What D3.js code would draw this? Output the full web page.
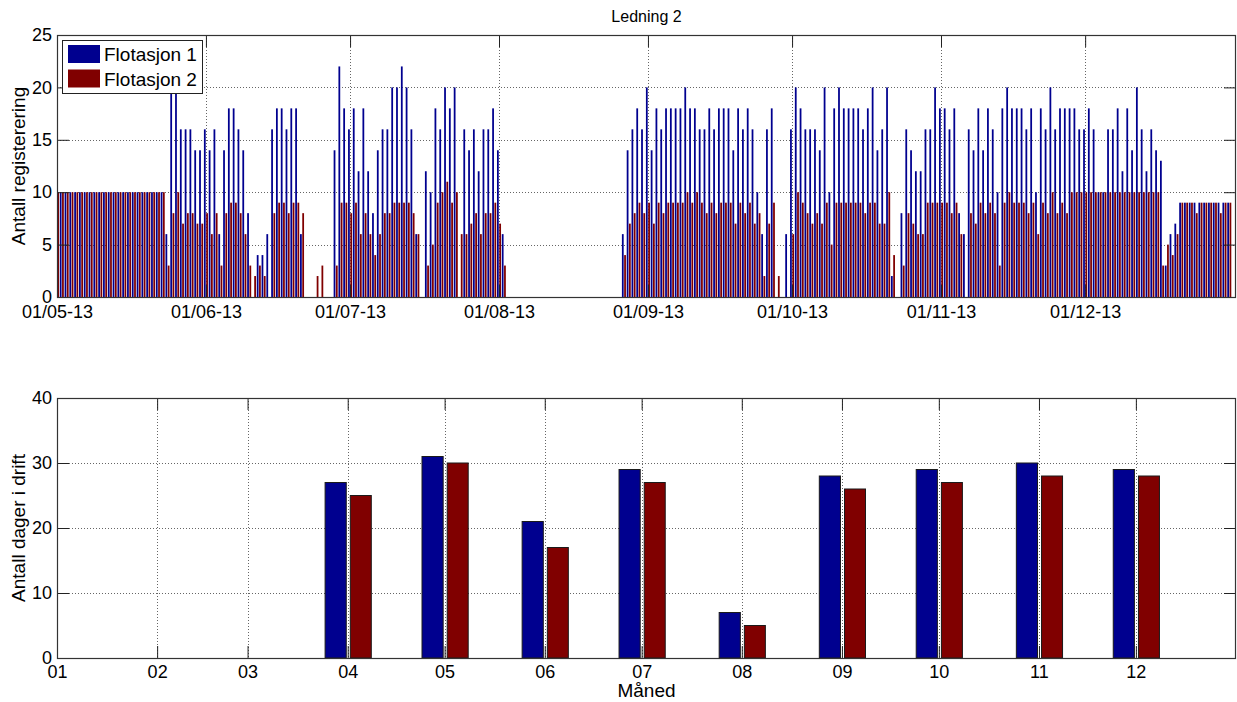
<!DOCTYPE html>
<html>
<head>
<meta charset="utf-8">
<script src="https://cdn.jsdelivr.net/npm/d3@7"></script>
<style>
  body { margin: 0; background: #fff; }
  svg { display: block; font-family: "Liberation Sans", Arial, Helvetica, sans-serif; }
</style>
</head>
<body>
<svg id="chart" width="1237" height="702"></svg>
<script>
// ---- daily registrations, one value per day from the start date ----
const startDate = "2013-05-01";
const flot1Daily = [
  10,10,10,10,10,10,10,10,10,10,
  10,10,10,10,10,10,10,10,10,10,
  10,10,10,6,20,20,16,16,16,14,
  14,16,14,16,6,14,18,18,16,14,
  8,0,4,4,6,16,18,18,16,18,
  18,6,0,0,0,0,0,0,14,22,
  18,16,18,12,18,12,8,14,16,16,
  20,20,22,20,16,6,0,12,10,18,
  16,20,18,20,0,16,14,16,12,16,
  16,18,14,6,0,0,0,0,0,0,
  0,0,0,0,0,0,0,0,0,0,
  0,0,0,0,0,0,0,0,6,14,
  16,18,16,20,14,18,16,18,18,18,
  18,20,18,18,16,16,18,16,18,18,
  18,14,18,16,18,16,10,6,16,18,
  0,0,6,16,20,18,16,16,16,14,
  20,10,18,20,18,18,18,18,16,18,
  20,14,16,20,2,0,8,16,14,12,
  12,16,16,20,18,18,16,18,8,6,
  16,14,18,14,18,16,10,18,20,18,
  18,18,16,18,10,18,16,20,16,18,
  18,18,18,16,16,18,16,10,10,16,
  16,18,12,18,14,20,16,12,16,14,
  13,3,6,7,9,9,9,9,9,9,
  9,9,9,9,9
];
const flot2Daily = [
  10,10,10,10,10,10,10,10,10,10,
  10,10,10,10,10,10,10,10,10,10,
  10,10,10,3,8,10,7,8,8,7,
  7,8,6,8,3,8,9,9,8,6,
  3,2,3,2,0,8,9,9,8,9,
  9,8,0,0,2,3,0,0,3,9,
  9,8,9,6,8,6,4,6,8,8,
  9,9,9,9,8,6,0,3,5,9,
  10,11,9,10,6,6,7,8,6,8,
  8,9,7,3,0,0,0,0,0,0,
  0,0,0,0,0,0,0,0,0,0,
  0,0,0,0,0,0,0,0,4,7,
  8,9,8,9,7,9,8,9,9,9,
  9,10,9,10,9,8,9,8,9,9,
  9,7,9,8,9,7,8,2,7,9,
  2,0,0,6,10,9,8,7,8,7,
  9,5,9,9,9,9,9,9,8,9,
  9,7,7,10,4,0,3,8,7,6,
  6,9,9,9,9,9,8,9,6,0,
  8,7,9,8,9,8,3,9,10,9,
  9,9,8,9,6,9,8,10,8,9,
  8,10,10,10,10,10,10,10,10,10,
  10,10,10,10,10,10,10,10,10,10,
  3,5,4,6,9,9,9,8,9,9,
  9,9,8,9,9
];

// ---- days in operation per month ----
const monthNumbers = [4, 5, 6, 7, 8, 9, 10, 11, 12];
const flot1Days = [27, 31, 21, 29, 7, 28, 29, 30, 29];
const flot2Days = [25, 30, 17, 27, 5, 26, 27, 28, 28];

const seriesNames = ["Flotasjon 1", "Flotasjon 2"];
const seriesColors = ["#00008f", "#800000"];
const topYTicks = [0, 5, 10, 15, 20, 25];
const bottomYTicks = [0, 10, 20, 30, 40];
const titleText = "Ledning 2";
const topYLabel = "Antall registerering";
const bottomYLabel = "Antall dager i drift";
const bottomXLabel = "Måned";

// ---- layout ----
const svg = d3.select("#chart");
const plotLeft = 57, plotRight = 1236;
const top1 = 35, bottom1 = 297;
const top2 = 398, bottom2 = 658;
const tickLen = 12;
const tickFont = 18, labelFont = 19;
const DAY = 864e5;

const t0 = d3.utcParse("%Y-%m-%d")(startDate);
const shift = (d, days) => new Date(d.getTime() + days * DAY);
const tEnd = shift(t0, 245.4);

// top panel scales
const xTop = d3.scaleUtc().domain([t0, tEnd]).range([plotLeft, plotRight]);
const yTop = d3.scaleLinear().domain([0, 25]).range([bottom1, top1]);

// bottom panel scales
const year0 = new Date(Date.UTC(2013, 0, 1));
const year1 = new Date(Date.UTC(2014, 0, 1));
const xBot = d3.scaleUtc().domain([year0, year1]).range([plotLeft, plotRight]);
const yBot = d3.scaleLinear().domain([0, 40]).range([bottom2, top2]);

function drawGrid(g, x, y, xTicks, yTicks, yTop_, yBottom_) {
  const grid = g.append("g").attr("class", "grid")
    .attr("stroke", "#666").attr("stroke-width", 1).attr("stroke-dasharray", "1,2");
  grid.selectAll("line.v").data(xTicks.filter(t => x(t) > plotLeft + 1 && x(t) < plotRight - 1))
    .join("line").attr("class", "v")
    .attr("x1", d => Math.round(x(d)) + 0.5).attr("x2", d => Math.round(x(d)) + 0.5)
    .attr("y1", yTop_).attr("y2", yBottom_);
  grid.selectAll("line.h").data(yTicks.filter(v => y(v) > yTop_ + 1 && y(v) < yBottom_ - 1))
    .join("line").attr("class", "h")
    .attr("x1", plotLeft).attr("x2", plotRight)
    .attr("y1", d => Math.round(y(d)) + 0.5).attr("y2", d => Math.round(y(d)) + 0.5);
}

function drawAxes(g, x, y, xTicks, yTicks, xFmt, yTop_, yBottom_, xPad) {
  const styleAxis = sel => {
    sel.select(".domain").remove();
    sel.attr("font-size", tickFont).attr("font-family", null).attr("color", "#000");
    sel.selectAll(".tick line").attr("stroke", "#222");
  };
  g.append("g").attr("transform", `translate(0,${yBottom_})`)
    .call(d3.axisBottom(x).tickValues(xTicks).tickFormat(xFmt)
      .tickSize(-tickLen).tickSizeOuter(0).tickPadding(xPad))
    .call(styleAxis);
  g.append("g").attr("transform", `translate(0,${yTop_})`)
    .call(d3.axisTop(x).tickValues(xTicks).tickFormat("")
      .tickSize(-tickLen).tickSizeOuter(0))
    .call(styleAxis);
  g.append("g").attr("transform", `translate(${plotLeft},0)`)
    .call(d3.axisLeft(y).tickValues(yTicks).tickFormat(d3.format("d"))
      .tickSize(-tickLen).tickSizeOuter(0).tickPadding(5))
    .call(styleAxis);
  g.append("g").attr("transform", `translate(${plotRight},0)`)
    .call(d3.axisRight(y).tickValues(yTicks).tickFormat("")
      .tickSize(-tickLen).tickSizeOuter(0))
    .call(styleAxis);
  g.append("rect")
    .attr("x", plotLeft + 0.5).attr("y", yTop_ + 0.5)
    .attr("width", plotRight - plotLeft - 1).attr("height", yBottom_ - yTop_)
    .attr("fill", "none").attr("stroke", "#333").attr("stroke-width", 1.2);
}

// ================= top panel: daily registrations =================
const gTop = svg.append("g");
// month starts inside the axis range (the year-end sits on the right border)
const topMonths = d3.utcMonth.range(t0, shift(t0, 245));
drawGrid(gTop, xTop, yTop, topMonths, topYTicks, top1, bottom1);

svg.append("clipPath").attr("id", "clipTop")
  .append("rect").attr("x", plotLeft).attr("y", top1)
  .attr("width", plotRight - plotLeft).attr("height", bottom1 - top1);

const daily = flot1Daily.map((v, i) => ({ date: shift(t0, i), f1: v, f2: flot2Daily[i] }));
const barsTop = gTop.append("g").attr("clip-path", "url(#clipTop)");
const dayOffsets = [[-0.42, -0.05], [0.05, 0.42]];
["f1", "f2"].forEach((key, s) => {
  barsTop.append("g").attr("fill", seriesColors[s])
    .selectAll("rect").data(daily.filter(d => d[key] > 0)).join("rect")
    .attr("x", d => xTop(shift(d.date, dayOffsets[s][0])))
    .attr("width", d => xTop(shift(d.date, dayOffsets[s][1])) - xTop(shift(d.date, dayOffsets[s][0])))
    .attr("y", d => yTop(d[key]))
    .attr("height", d => yTop(0) - yTop(d[key]));
});

drawAxes(gTop, xTop, yTop, topMonths, topYTicks, d3.utcFormat("%d/%m-%y"), top1, bottom1, 8);

// title
svg.append("text").attr("x", (plotLeft + plotRight) / 2).attr("y", 22)
  .attr("text-anchor", "middle").attr("font-size", 16).text(titleText);

// y label
svg.append("text").attr("transform", `translate(25,${(top1 + bottom1) / 2}) rotate(-90)`)
  .attr("text-anchor", "middle").attr("font-size", labelFont).text(topYLabel);

// legend
const leg = svg.append("g");
leg.append("rect").attr("x", 62.5).attr("y", 40.5).attr("width", 140).attr("height", 53)
  .attr("fill", "#fff").attr("stroke", "#222").attr("stroke-width", 1);
seriesNames.forEach((name, i) => {
  const yy = 45 + i * 24.5;
  leg.append("rect").attr("x", 68).attr("y", yy).attr("width", 32).attr("height", 18)
    .attr("fill", seriesColors[i]);
  leg.append("text").attr("x", 104).attr("y", yy + 16).attr("font-size", labelFont).text(name);
});

// ================= bottom panel: days in operation =================
const gBot = svg.append("g");
const botMonths = d3.utcMonth.range(year0, year1);
drawGrid(gBot, xBot, yBot, botMonths, bottomYTicks, top2, bottom2);

const monthly = monthNumbers.map((m, i) => ({
  date: new Date(Date.UTC(2013, m - 1, 1)), f1: flot1Days[i], f2: flot2Days[i]
}));
const monthOffsets = [[-7.0, -0.45], [0.8, 7.3]];
["f1", "f2"].forEach((key, s) => {
  gBot.append("g").attr("fill", seriesColors[s]).attr("stroke", "#1a1a1a").attr("stroke-width", 1)
    .selectAll("rect").data(monthly).join("rect")
    .attr("x", d => xBot(shift(d.date, monthOffsets[s][0])))
    .attr("width", d => xBot(shift(d.date, monthOffsets[s][1])) - xBot(shift(d.date, monthOffsets[s][0])))
    .attr("y", d => yBot(d[key]))
    .attr("height", d => yBot(0) - yBot(d[key]));
});

drawAxes(gBot, xBot, yBot, botMonths, bottomYTicks, d3.utcFormat("%m"), top2, bottom2, 7);

svg.append("text").attr("transform", `translate(25,${(top2 + bottom2) / 2}) rotate(-90)`)
  .attr("text-anchor", "middle").attr("font-size", labelFont).text(bottomYLabel);

svg.append("text").attr("x", (plotLeft + plotRight) / 2).attr("y", 697)
  .attr("text-anchor", "middle").attr("font-size", labelFont).text(bottomXLabel);
</script>
</body>
</html>
